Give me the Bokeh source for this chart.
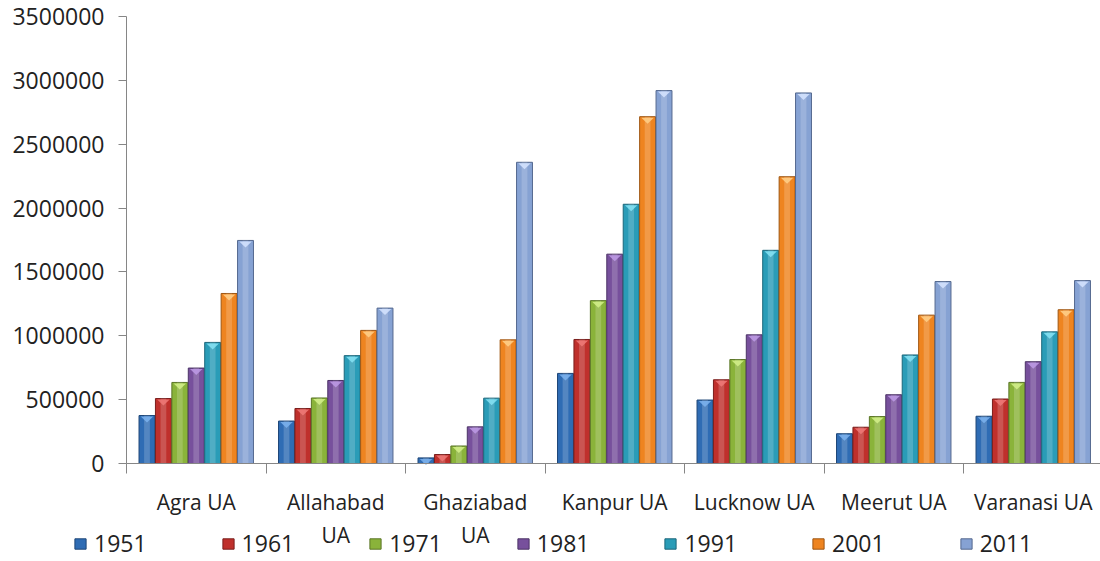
from bokeh.plotting import figure
from bokeh.models import (Range1d, FixedTicker, Legend, LegendItem, ColumnDataSource)
from bokeh.embed import file_html
from bokeh.resources import INLINE

# Urban agglomerations of Uttar Pradesh and census populations
cities = ["Agra UA", "Allahabad UA", "Ghaziabad UA", "Kanpur UA",
          "Lucknow UA", "Meerut UA", "Varanasi UA"]
years = ["1951", "1961", "1971", "1981", "1991", "2001", "2011"]

pop_1951 = [375665, 332295, 43745, 705383, 496861, 233183, 370000]
pop_1961 = [508680, 430730, 70438, 971062, 655673, 283997, 505000]
pop_1971 = [634622, 513036, 137033, 1275242, 813982, 367754, 635000]
pop_1981 = [747318, 650070, 287170, 1639064, 1007604, 538461, 797162]
pop_1991 = [948063, 844546, 511759, 2029889, 1669204, 849799, 1030863]
pop_2001 = [1331339, 1042229, 968256, 2715555, 2245509, 1161716, 1203961]
pop_2011 = [1746467, 1216719, 2358525, 2920067, 2901474, 1424908, 1432280]

series = [pop_1951, pop_1961, pop_1971, pop_1981, pop_1991, pop_2001, pop_2011]

y_ticks = [0, 500000, 1000000, 1500000, 2000000, 2500000, 3000000, 3500000]

base_colors = ["#2F6CB4", "#BF302C", "#8AB33A", "#77509C", "#2A9CB7", "#EE8420", "#86A2D3"]
edge_colors = ["#1D4677", "#7A1E1C", "#5A7526", "#4C3366", "#1B667A", "#9E5612", "#55698F"]
light_colors = ["#7DB3EE", "#F07A78", "#D4F08A", "#BE9BE6", "#86E3F5", "#FFD08A", "#D6E4FF"]

FONT = "Open Sans"
W, H = 1100, 561

# pixel geometry of the value area inside the canvas
AXIS_X, ZERO_Y, TOP_Y = 126, 463, 16
CAT_PX = 139.5
Y_MAX = 3500000
px_per_unit_y = (ZERO_Y - TOP_Y) / Y_MAX
y_lo = -(H - ZERO_Y) / px_per_unit_y
y_hi = Y_MAX + TOP_Y / px_per_unit_y
x_lo = -AXIS_X / CAT_PX
x_hi = (W - AXIS_X) / CAT_PX

p = figure(width=W, height=H, output_backend="svg", toolbar_location=None,
           x_range=Range1d(x_lo, x_hi), y_range=Range1d(y_lo, y_hi),
           min_border=0, min_border_left=0, min_border_right=0,
           min_border_top=0, min_border_bottom=0,
           background_fill_color="white", border_fill_color="white",
           outline_line_color=None)
p.grid.visible = False

bar_w = 0.1177
units_per_px = 1 / px_per_unit_y
tri_h = 7 * units_per_px

renderers = []
for j, (yr, vals) in enumerate(zip(years, series)):
    xs = [i + 0.5 + (j - 3) * bar_w for i in range(len(cities))]
    src = ColumnDataSource(dict(x=xs, top=vals))
    r = p.vbar(x="x", top="top", width=bar_w * 0.97, bottom=0, source=src,
               fill_color=base_colors[j], line_color=edge_colors[j], line_width=1)
    # glossy highlight strip down the middle of each bar
    p.vbar(x="x", top="top", width=bar_w * 0.35, bottom=0, source=src,
           fill_color="white", fill_alpha=0.18, line_color=None)
    # bevelled cap at the top of each bar
    tri_x = [[x - bar_w * 0.38, x + bar_w * 0.38, x] for x in xs]
    tri_y = [[v - units_per_px, v - units_per_px, v - tri_h] for v in vals]
    p.patches(tri_x, tri_y, fill_color=light_colors[j], fill_alpha=0.85, line_color=None)
    renderers.append(r)

# y axis pinned at x = 0
p.yaxis.fixed_location = 0
p.yaxis.bounds = (0, Y_MAX)
p.yaxis.ticker = FixedTicker(ticks=y_ticks)
p.yaxis.formatter.use_scientific = False
p.yaxis.major_label_text_font = FONT
p.yaxis.major_label_text_font_size = "23px"
p.yaxis.major_label_text_color = "#222222"
p.yaxis.axis_line_color = "#868686"
p.yaxis.major_tick_line_color = "#868686"
p.yaxis.major_tick_out = 8
p.yaxis.major_tick_in = 0
p.yaxis.minor_tick_line_color = None
p.yaxis.major_label_standoff = 14

# x axis pinned at y = 0: labels at category centres, ticks at category boundaries
centers = [i + 0.5 for i in range(len(cities))]
p.xaxis.fixed_location = 0
p.xaxis.bounds = (0, len(cities))
p.xaxis.ticker = FixedTicker(ticks=centers, minor_ticks=list(range(len(cities) + 1)))
p.xaxis.major_label_overrides = {c: name.replace("Allahabad UA", "Allahabad\nUA")
                                 .replace("Ghaziabad UA", "Ghaziabad\nUA")
                                 for c, name in zip(centers, cities)}
p.xaxis.major_tick_line_color = None
p.xaxis.minor_tick_line_color = "#868686"
p.xaxis.minor_tick_out = 10
p.xaxis.minor_tick_in = 0
p.xaxis.axis_line_color = "#868686"
p.xaxis.major_label_text_font = FONT
p.xaxis.major_label_text_font_size = "21px"
p.xaxis.major_label_text_color = "#222222"
p.xaxis.major_label_standoff = 14

legend = Legend(items=[LegendItem(label=y, renderers=[r]) for y, r in zip(years, renderers)],
                orientation="horizontal", location=(73, 2),
                border_line_color=None, background_fill_alpha=0,
                padding=0, margin=0, spacing=74, label_standoff=7,
                glyph_width=14, glyph_height=13,
                label_text_font=FONT, label_text_font_size="23px",
                label_text_color="#222222")
p.add_layout(legend, "center")

open("out.html", "w").write(file_html(p, INLINE))
